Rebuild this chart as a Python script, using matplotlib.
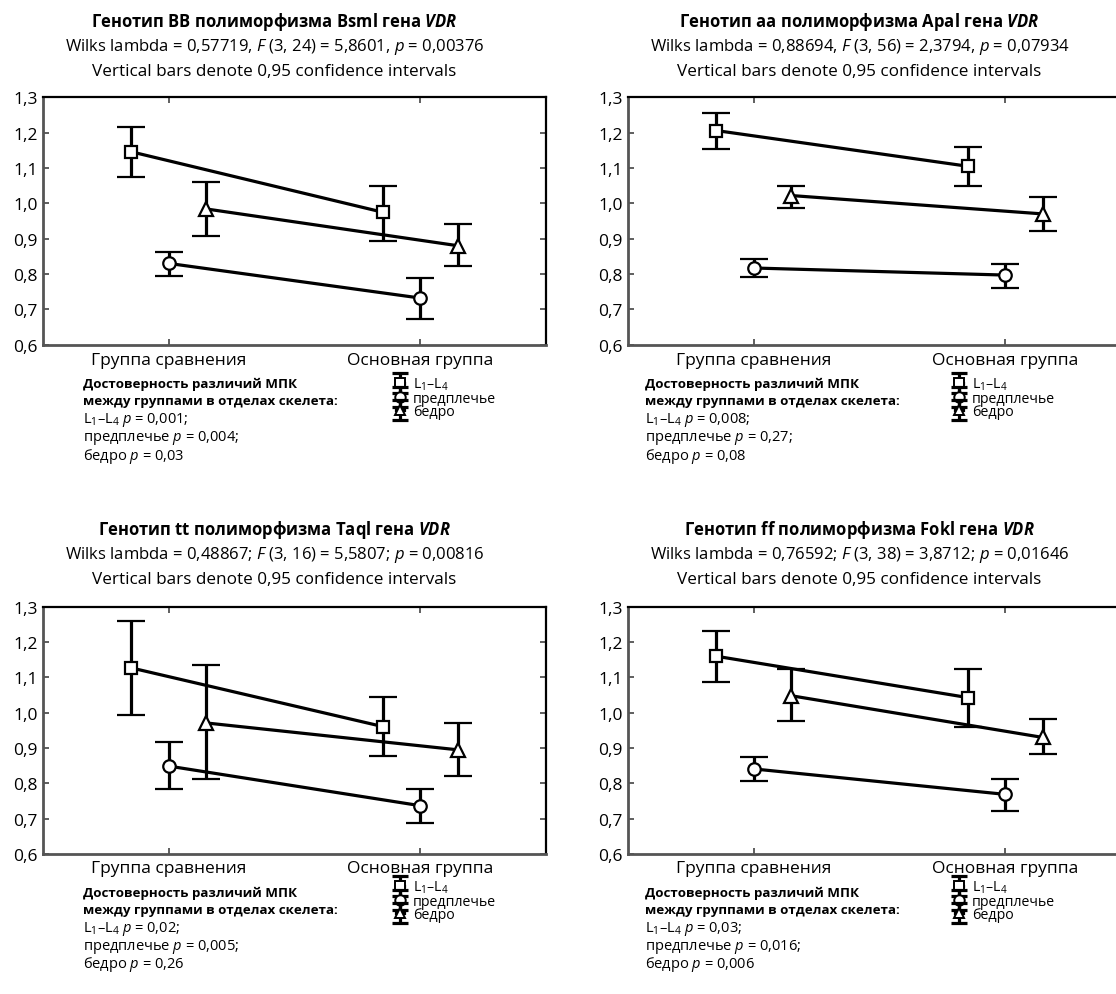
import matplotlib
matplotlib.use('Agg')
import matplotlib.pyplot as plt
from matplotlib.ticker import FixedLocator, FuncFormatter
from matplotlib.lines import Line2D
from matplotlib.collections import LineCollection
from matplotlib.container import ErrorbarContainer
from matplotlib.legend_handler import HandlerErrorbar

plt.rcParams['font.family'] = ['Open Sans', 'DejaVu Sans']
plt.rcParams['mathtext.fontset'] = 'custom'
plt.rcParams['mathtext.rm'] = 'Open Sans'
plt.rcParams['mathtext.it'] = 'Open Sans:italic'
plt.rcParams['mathtext.bf'] = 'Open Sans:bold'
plt.rcParams['mathtext.bfit'] = 'Open Sans:italic:bold'

# ---------------- data ----------------
categories = ['Группа сравнения', 'Основная группа']
series_labels = ['L$_1$–L$_4$', 'предплечье', 'бедро']
y_ticks = [0.6, 0.7, 0.8, 0.9, 1.0, 1.1, 1.2, 1.3]

titles = ['Генотип BB полиморфизма Bsml гена $\\mathbfit{VDR}$',
          'Генотип aa полиморфизма Apal гена $\\mathbfit{VDR}$',
          'Генотип tt полиморфизма Taql гена $\\mathbfit{VDR}$',
          'Генотип ff полиморфизма Fokl гена $\\mathbfit{VDR}$']
stats = ['Wilks lambda = 0,57719, $\\mathit{F}$ (3, 24) = 5,8601, $\\mathit{p}$ = 0,00376',
         'Wilks lambda = 0,88694, $\\mathit{F}$ (3, 56) = 2,3794, $\\mathit{p}$ = 0,07934',
         'Wilks lambda = 0,48867; $\\mathit{F}$ (3, 16) = 5,5807; $\\mathit{p}$ = 0,00816',
         'Wilks lambda = 0,76592; $\\mathit{F}$ (3, 38) = 3,8712; $\\mathit{p}$ = 0,01646']
subtitle = 'Vertical bars denote 0,95 confidence intervals'

p_l14 = ['0,001', '0,008', '0,02', '0,03']
p_forearm = ['0,004', '0,27', '0,005', '0,016']
p_hip = ['0,03', '0,08', '0,26', '0,006']

# Genotype BB (BsmI)
bb_l14 = [1.146, 0.975]; bb_l14_lo = [1.074, 0.892]; bb_l14_hi = [1.217, 1.050]
bb_fa = [0.830, 0.732]; bb_fa_lo = [0.793, 0.673]; bb_fa_hi = [0.863, 0.789]
bb_hip = [0.984, 0.880]; bb_hip_lo = [0.908, 0.823]; bb_hip_hi = [1.060, 0.942]
# Genotype aa (ApaI)
aa_l14 = [1.206, 1.105]; aa_l14_lo = [1.155, 1.050]; aa_l14_hi = [1.255, 1.160]
aa_fa = [0.817, 0.797]; aa_fa_lo = [0.792, 0.760]; aa_fa_hi = [0.842, 0.827]
aa_hip = [1.022, 0.970]; aa_hip_lo = [0.988, 0.921]; aa_hip_hi = [1.050, 1.017]
# Genotype tt (TaqI)
tt_l14 = [1.127, 0.961]; tt_l14_lo = [0.994, 0.877]; tt_l14_hi = [1.259, 1.045]
tt_fa = [0.849, 0.737]; tt_fa_lo = [0.784, 0.687]; tt_fa_hi = [0.917, 0.783]
tt_hip = [0.971, 0.895]; tt_hip_lo = [0.812, 0.821]; tt_hip_hi = [1.134, 0.970]
# Genotype ff (FokI)
ff_l14 = [1.160, 1.043]; ff_l14_lo = [1.088, 0.960]; ff_l14_hi = [1.230, 1.124]
ff_fa = [0.841, 0.769]; ff_fa_lo = [0.807, 0.723]; ff_fa_hi = [0.875, 0.813]
ff_hip = [1.048, 0.930]; ff_hip_lo = [0.977, 0.883]; ff_hip_hi = [1.124, 0.981]

panels = [
    [(bb_l14, bb_l14_lo, bb_l14_hi), (bb_fa, bb_fa_lo, bb_fa_hi), (bb_hip, bb_hip_lo, bb_hip_hi)],
    [(aa_l14, aa_l14_lo, aa_l14_hi), (aa_fa, aa_fa_lo, aa_fa_hi), (aa_hip, aa_hip_lo, aa_hip_hi)],
    [(tt_l14, tt_l14_lo, tt_l14_hi), (tt_fa, tt_fa_lo, tt_fa_hi), (tt_hip, tt_hip_lo, tt_hip_hi)],
    [(ff_l14, ff_l14_lo, ff_l14_hi), (ff_fa, ff_fa_lo, ff_fa_hi), (ff_hip, ff_hip_lo, ff_hip_hi)],
]

# ---------------- style ----------------
W, H = 1116, 995
fig = plt.figure(figsize=(W / 100, H / 100), dpi=100)
fig.patch.set_facecolor('white')

def fx(px):
    return px / W

def fy(py):
    return 1 - py / H

offsets = [-0.15, 0.0, 0.15]
markers = ['s', 'o', '^']
msizes = [9, 9, 9.5]
LW = 2.3

ax_left = [43, 628]
ax_w = 503
ax_top = [98.3, 607.7]
ax_h = 247.4


def legend_proxy(marker):
    data_line = Line2D([], [], color='black', lw=LW, marker=marker, ms=7.5,
                       mfc='white', mec='black', mew=1.4)
    cap = Line2D([], [], color='black', marker='_', ms=11, mew=LW, ls='none')
    bar = LineCollection([], colors='black', linewidths=LW)
    return ErrorbarContainer((data_line, (cap, cap), (bar,)), has_xerr=False, has_yerr=True)


for i in range(4):
    col, row = i % 2, i // 2
    left, top = ax_left[col], ax_top[row]
    ax = fig.add_axes([fx(left), fy(top + ax_h), fx(ax_w), ax_h / H])
    for j, (mean, lo, hi) in enumerate(panels[i]):
        xs = [k + offsets[j] for k in range(len(categories))]
        yerr = [[m - l for m, l in zip(mean, lo)], [h - m for m, h in zip(mean, hi)]]
        ax.errorbar(xs, mean, yerr=yerr, color='black', lw=LW, elinewidth=LW,
                    capsize=10, capthick=LW, marker=markers[j], ms=msizes[j],
                    mfc='white', mec='black', mew=1.6, zorder=3)
    ax.set_xlim(-0.5, 1.5)
    ax.set_ylim(0.6, 1.3)
    ax.yaxis.set_major_locator(FixedLocator(y_ticks))
    ax.yaxis.set_major_formatter(FuncFormatter(lambda v, p: f'{v:.1f}'.replace('.', ',')))
    ax.set_xticks(range(len(categories)))
    ax.set_xticklabels(categories, fontsize=12.5)
    ax.tick_params(axis='y', labelsize=12.5, pad=4)
    ax.tick_params(direction='in', length=4, width=1.2, top=True, right=True,
                   left=True, bottom=True, color='#444')
    ax.tick_params(axis='x', pad=5 if row == 0 else 4)
    for s in ['left', 'bottom']:
        ax.spines[s].set_color('#555')
        ax.spines[s].set_linewidth(2.0)
    for s in ['top', 'right']:
        ax.spines[s].set_color('black')
        ax.spines[s].set_linewidth(1.6)

    cx = left + ax_w / 2 - 20
    ty = 22 if row == 0 else 530
    fig.text(fx(cx), fy(ty), titles[i], ha='center', va='center', fontsize=12,
             fontweight='bold')
    fig.text(fx(cx), fy(ty + 25), stats[i], ha='center', va='center', fontsize=12)
    fig.text(fx(cx), fy(ty + 50), subtitle, ha='center', va='center', fontsize=12.3)

    # annotations
    tx = 83 if col == 0 else 645
    ay = 384 if row == 0 else 893
    fig.text(fx(tx), fy(ay), 'Достоверность различий МПК', ha='left', va='center',
             fontsize=9.6, fontweight='bold')
    fig.text(fx(tx), fy(ay + 18), 'между группами в отделах скелета:', ha='left',
             va='center', fontsize=9.6, fontweight='bold')
    fig.text(fx(tx), fy(ay + 36), 'L$_1$–L$_4$ $\\mathit{p}$ = ' + p_l14[i] + ';',
             ha='left', va='center', fontsize=10.5)
    fig.text(fx(tx), fy(ay + 54), 'предплечье $\\mathit{p}$ = ' + p_forearm[i] + ';',
             ha='left', va='center', fontsize=10.5)
    fig.text(fx(tx), fy(ay + 72), 'бедро $\\mathit{p}$ = ' + p_hip[i],
             ha='left', va='center', fontsize=10.5)

    lx = 396 if col == 0 else 955
    ly = 377 if row == 0 else 880
    proxies = [legend_proxy(m) for m in markers]
    fig.legend(handles=proxies, labels=series_labels, loc='upper left',
               bbox_to_anchor=(fx(lx), fy(ly)), frameon=False,
               fontsize=10.2, handlelength=0.55, handletextpad=0.65,
               labelspacing=-0.12, borderpad=0, borderaxespad=0,
               handler_map={ErrorbarContainer: HandlerErrorbar(yerr_size=0.7)})

fig.savefig('out.png', dpi=100, facecolor='white')
